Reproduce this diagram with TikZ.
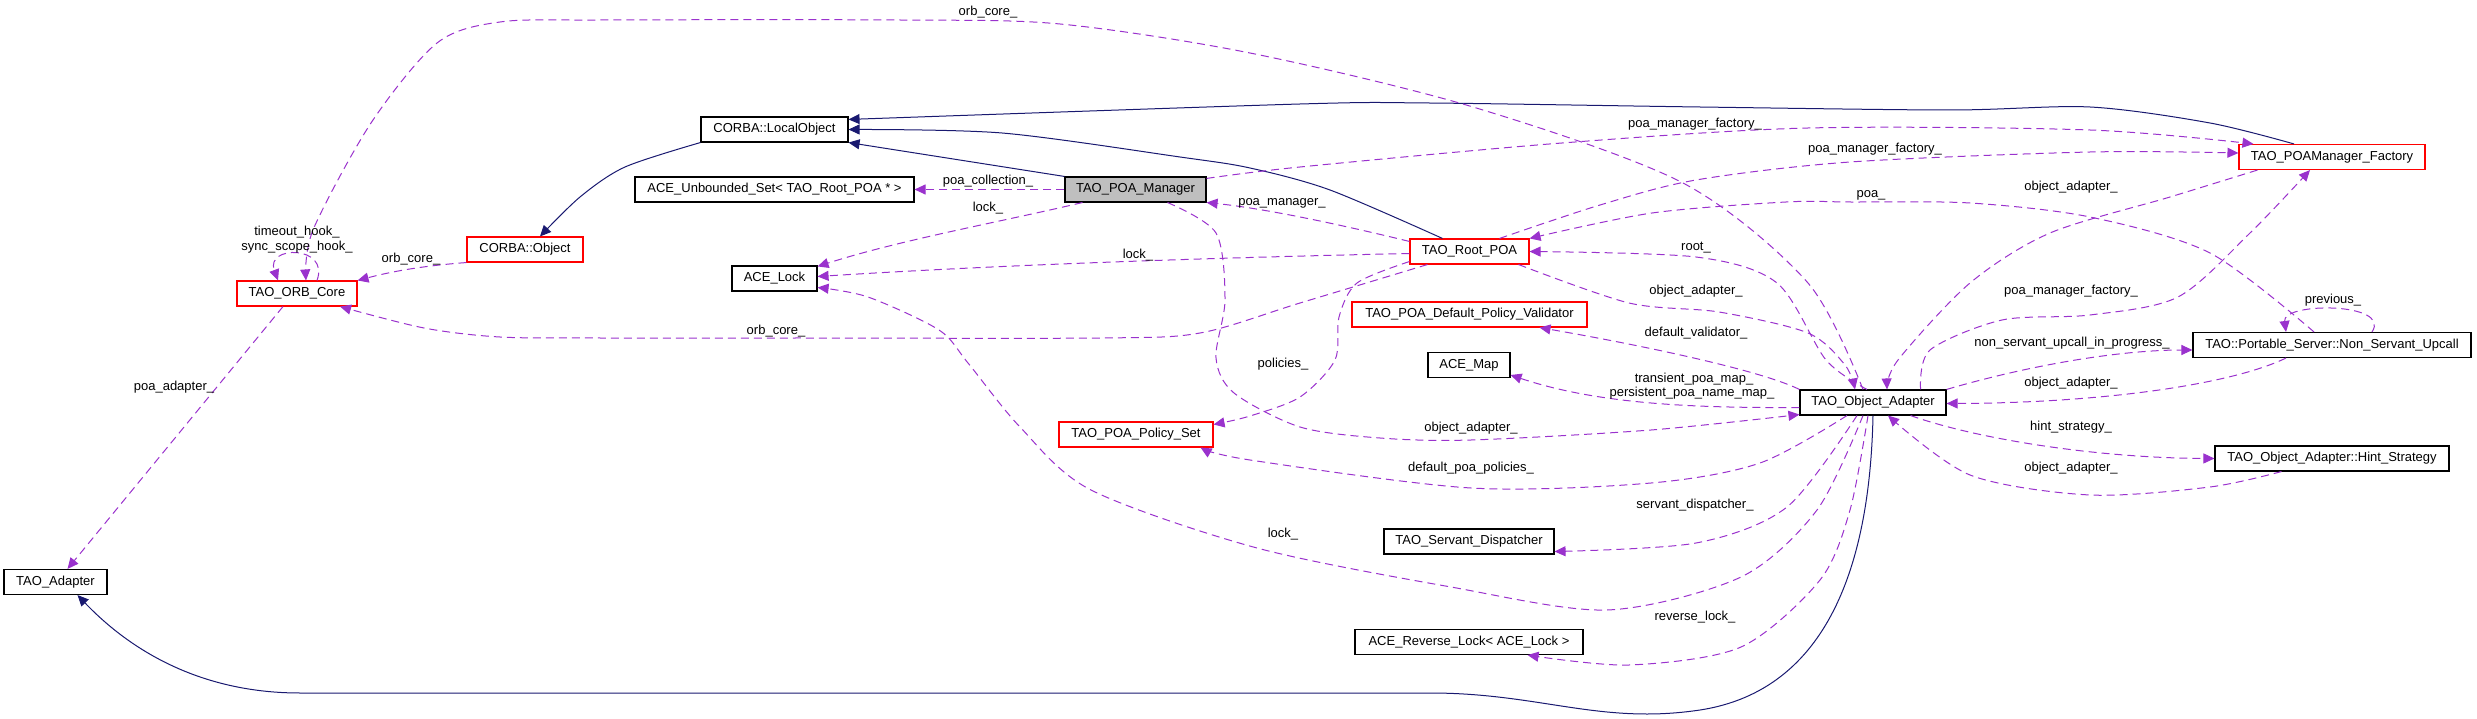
\documentclass[tikz,border=0pt]{standalone}
\usepackage{fontspec}
\setmainfont{Liberation Sans}
\usetikzlibrary{arrows.meta,calc}
\definecolor{purp}{HTML}{9A32CD}
\definecolor{navy}{HTML}{191970}
\definecolor{mgrgray}{HTML}{BFBFBF}
\tikzset{
  cls/.style={draw=black, line width=1.1pt, fill=white, minimum height=25pt, inner sep=0pt, font=\fontsize{13}{15}\selectfont},
  redcls/.style={cls, draw=red},
  use/.style={draw=purp, line width=1pt, dash pattern=on 8pt off 5pt, -{Triangle[length=11pt,width=10pt,fill=purp]}},
  inh/.style={draw=navy, line width=1pt, -{Triangle[length=11pt,width=10pt,fill=navy]}},
  lbl/.style={font=\fontsize{13}{15}\selectfont, inner sep=0pt}
}
\begin{document}
\begin{tikzpicture}[x=1pt,y=-1pt]
\useasboundingbox (0,0) rectangle (2477,719);
% nodes
\node[redcls, minimum width=120pt] (ORB) at (297,293.5) {TAO\_ORB\_Core};
\node[redcls, minimum width=116pt] (CObj) at (525,249.5) {CORBA::Object};
\node[cls, minimum width=103pt] (Adapter) at (55.5,582) {TAO\_Adapter};
\node[cls, minimum width=147pt] (LocalObj) at (774.5,129.5) {CORBA::LocalObject};
\node[cls, minimum width=279pt] (UnbSet) at (774.5,189.5) {ACE\_Unbounded\_Set< TAO\_Root\_POA * >};
\node[cls, minimum width=141pt, fill=mgrgray] (Mgr) at (1135.5,189.5) {TAO\_POA\_Manager};
\node[cls, minimum width=85pt] (Lock) at (774.5,278.5) {ACE\_Lock};
\node[redcls, minimum width=154pt] (PolicySet) at (1136,434.5) {TAO\_POA\_Policy\_Set};
\node[redcls, minimum width=119pt] (RootPOA) at (1469.5,251.5) {TAO\_Root\_POA};
\node[redcls, minimum width=235pt] (Validator) at (1469.5,314.5) {TAO\_POA\_Default\_Policy\_Validator};
\node[cls, minimum width=82pt] (Map) at (1469,365) {ACE\_Map};
\node[cls, minimum width=146pt] (OA) at (1873,402.5) {TAO\_Object\_Adapter};
\node[cls, minimum width=170pt] (Disp) at (1469,541.5) {TAO\_Servant\_Dispatcher};
\node[cls, minimum width=228pt] (RevLock) at (1469,642) {ACE\_Reverse\_Lock< ACE\_Lock >};
\node[redcls, minimum width=186pt] (Factory) at (2332,157) {TAO\_POAManager\_Factory};
\node[cls, minimum width=278pt] (Upcall) at (2332,345) {TAO::Portable\_Server::Non\_Servant\_Upcall};
\node[cls, minimum width=234pt] (Hint) at (2332,458.5) {TAO\_Object\_Adapter::Hint\_Strategy};

% inheritance edges
\draw[inh] (OA.south) .. controls (1870,560) and (1830,690) .. (1700,710) .. controls (1600,725) and (1540,693) .. (1430,693) -- (300,693) .. controls (200,693) and (130,650) .. ($(Adapter.south)+(22,0)$);
\draw[inh] plot[smooth] coordinates {(LocalObj.south west) (625,167) (580,197) ($(CObj.north)+(15,0)$)};
\draw[inh] (Mgr.north west) -- (LocalObj.south east);
\draw[inh] plot[smooth] coordinates {($(RootPOA.north)+(-27,0)$) (1330,190) (1250,168) (1180,157) (1002,133) (LocalObj.east)};
\draw[inh] plot[smooth] coordinates {($(Factory.north)+(-38,0)$) (2210,123) (2090,107) (1950,110) (1700,107) (1429,103) (1300,104) ($(LocalObj.north east)+(0,3)$)};

% usage edges
\draw[use] plot[smooth] coordinates {($(OA.north)+(-10,0)$) (1808,283) (1683,183) (1473,107) (1250,53) (1060,24) (900,20) (600,20) (500,22) (437,43) (371,123) (313,230) ($(ORB.north)+(9,0)$)};
\draw[use] ($(ORB.north)+(20,0)$) .. controls (330,245) and (265,245) .. ($(ORB.north)+(-19,0)$);
\draw[use] (CObj.south west) .. controls (420,266) and (390,272) .. (ORB.north east);
\draw[use] plot[smooth] coordinates {($(RootPOA.south west)+(18,0)$) (1300,303) (1200,333) (1100,338) (800,338) (600,338) (500,337) (424,328) ($(ORB.south)+(43,0)$)};
\draw[use] ($(ORB.south)+(-14,0)$) -- ($(Adapter.north)+(12,0)$);
\draw[use] (Mgr.west) -- (UnbSet.east);
\draw[use] ($(Mgr.south west)+(18,0)$) .. controls (1000,222) and (900,240) .. ($(Lock.north east)+(0,1)$);
\draw[use] ($(RootPOA.west)+(0,2)$) .. controls (1200,258) and (1000,265) .. ($(Lock.east)+(0,-2)$);
\draw[use] plot[smooth] coordinates {($(OA.south)+(-10,0)$) (1817,510) (1741,577) (1607,610) (1451,587) (1257,548) (1091,490) (1020,427) (968,363) (939,330) (868,297) ($(Lock.east)+(0,9)$)};
\draw[use] ($(RootPOA.north west)+(0,3)$) .. controls (1330,222) and (1260,208) .. (Mgr.south east);
\draw[use] plot[smooth] coordinates {($(Mgr.north east)+(0,2)$) (1300,167) (1562,143) (1808,128) (2090,130) ($(Factory.north west)+(15,0)$)};
\draw[use] plot[smooth] coordinates {($(RootPOA.north)+(30,0)$) (1600,205) (1696,180) (1850,162) (2090,152) ($(Factory.west)+(0,-4)$)};
\draw[use] plot[smooth] coordinates {($(Upcall.north)+(-18,0)$) (2210,253) (2090,217) (1970,203) (1850,202) (1786,202) (1652,213) (RootPOA.north east)};
\draw[use] ($(Upcall.north)+(40,0)$) .. controls (2392,302) and (2282,302) .. ($(Upcall.north)+(-46,0)$);
\draw[use] plot[smooth] coordinates {($(OA.north)+(-6,0)$) (1826,360) (1777,283) (1696,257) (RootPOA.east)};
\draw[use] plot[smooth] coordinates {($(RootPOA.south east)+(-11,0)$) (1629,303) (1719,312) (1808,333) (1845,365) ($(OA.north)+(-18,0)$)};
\draw[use] (OA.north west) .. controls (1760,370) and (1640,345) .. ($(Validator.south)+(70,0)$);
\draw[use] plot[smooth] coordinates {($(RootPOA.south west)+(0,-3)$) (1357,283) (1339,317) (1335,360) (1300,397) (1250,416) ($(PolicySet.east)+(0,-10)$)};
\draw[use] ($(OA.west)+(0,5)$) .. controls (1700,408) and (1600,405) .. ($(Map.east)+(0,10)$);
\draw[use] plot[smooth] coordinates {($(Mgr.south)+(32,0)$) (1216,233) (1225,300) (1216,358) (1234,393) (1300,427) (1380,438) (1471,440) (1651,430) ($(OA.south west)+(0,-1)$)};
\draw[use] plot[smooth] coordinates {($(OA.south)+(-26,0)$) (1760,463) (1651,483) (1471,488) (1250,460) ($(PolicySet.south east)+(-13,0)$)};
\draw[use] plot[smooth] coordinates {($(OA.south)+(-16,0)$) (1787,507) (1696,543) ($(Disp.east)+(0,10)$)};
\draw[use] plot[smooth] coordinates {($(OA.south)+(-5,0)$) (1850,510) (1820,580) (1741,647) (1629,665) ($(RevLock.south east)+(-56,0)$)};
\draw[use] plot[smooth] coordinates {($(Factory.south west)+(19,0)$) (2170,197) (2050,233) (1970,283) (1898,360) ($(OA.north)+(14,0)$)};
\draw[use] plot[smooth] coordinates {($(OA.north east)+(-26,0)$) (1930,350) (2002,320) (2090,315) (2178,297) (2250,233) ($(Factory.south)+(-22,0)$)};
\draw[use] (OA.north east) .. controls (2030,365) and (2120,350) .. ($(Upcall.west)+(0,5)$);
\draw[use] ($(Upcall.south)+(-46,0)$) .. controls (2230,385) and (2100,403) .. ($(OA.east)+(0,1)$);
\draw[use] ($(OA.south east)+(-36,0)$) .. controls (1980,440) and (2100,458) .. (Hint.west);
\draw[use] plot[smooth] coordinates {($(Hint.south west)+(67,0)$) (2210,487) (2090,495) (1970,475) ($(OA.south)+(15,0)$)};

% labels
\node[lbl] (L1) at (988,12) {orb\_core\_};
\node[lbl] (L2) at (297,232) {timeout\_hook\_};
\node[lbl] (L3) at (297,247) {sync\_scope\_hook\_};
\node[lbl] (L4) at (411,259) {orb\_core\_};
\node[lbl] (L5) at (174,387) {poa\_adapter\_};
\node[lbl] (L6) at (988,181) {poa\_collection\_};
\node[lbl] (L7) at (988,208) {lock\_};
\node[lbl] (L8) at (1138,255) {lock\_};
\node[lbl] (L9) at (776,331) {orb\_core\_};
\node[lbl] (L10) at (1282,203) {poa\_manager\_};
\node[lbl] (L11) at (1695,124) {poa\_manager\_factory\_};
\node[lbl] (L12) at (1875,149) {poa\_manager\_factory\_};
\node[lbl] (L13) at (1871,195) {poa\_};
\node[lbl] (L14) at (1696,248) {root\_};
\node[lbl] (L15) at (1696,291) {object\_adapter\_};
\node[lbl] (L16) at (1696,333) {default\_validator\_};
\node[lbl] (L17) at (1283,364) {policies\_};
\node[lbl] (L18) at (1694,379) {transient\_poa\_map\_};
\node[lbl] (L19) at (1692,393) {persistent\_poa\_name\_map\_};
\node[lbl] (L20) at (1471,428) {object\_adapter\_};
\node[lbl] (L21) at (1471,468) {default\_poa\_policies\_};
\node[lbl] (L22) at (1695,505) {servant\_dispatcher\_};
\node[lbl] (L23) at (1283,534) {lock\_};
\node[lbl] (L24) at (1695,617) {reverse\_lock\_};
\node[lbl] (L25) at (2071,187) {object\_adapter\_};
\node[lbl] (L26) at (2071,291) {poa\_manager\_factory\_};
\node[lbl] (L27) at (2333,300) {previous\_};
\node[lbl] (L28) at (2072,343) {non\_servant\_upcall\_in\_progress\_};
\node[lbl] (L29) at (2071,383) {object\_adapter\_};
\node[lbl] (L30) at (2071,427) {hint\_strategy\_};
\node[lbl] (L31) at (2071,468) {object\_adapter\_};
\end{tikzpicture}
\end{document}
